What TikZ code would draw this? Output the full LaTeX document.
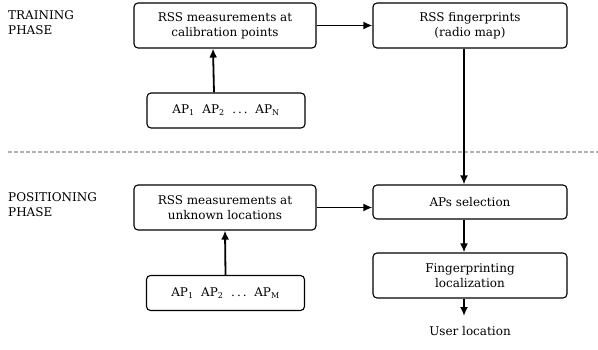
\documentclass[tikz,border=0pt]{standalone}
\usepackage{fontspec}
\setmainfont{DejaVu Serif}
\usetikzlibrary{arrows.meta}

\begin{document}
\begin{tikzpicture}[x=1pt, y=-1pt,
    box/.style={draw, rounded corners=4pt, line width=1.1pt, align=center,
                inner sep=0pt, font=\fontsize{12}{15}\selectfont},
    arr/.style={line width=1.8pt, -{Latex[length=9pt,width=8pt]}},
    phase/.style={anchor=north west, align=left, inner sep=0pt,
                  font=\fontsize{12}{15}\selectfont}]
\useasboundingbox (0,0) rectangle (598,349);

% training phase
\node[phase] (train) at (8,10) {TRAINING\\PHASE};
\node[box, minimum width=182pt, minimum height=45pt] (cal) at (225,25.5)
     {RSS measurements at\\calibration points};
\node[box, minimum width=194pt, minimum height=45pt] (map) at (470,25.5)
     {RSS fingerprints\\(radio map)};
\node[box, minimum width=158pt, minimum height=35pt] (apn) at (226,110.5)
     {AP\textsubscript{1}\ \ AP\textsubscript{2}\ \ .\,.\,.\ \ AP\textsubscript{N}};

% separator
\draw[gray!60, line width=1.6pt, dash pattern=on 4pt off 2pt] (8,152) -- (598,152);

% positioning phase
\node[phase] (pos) at (8,192) {POSITIONING\\PHASE};
\node[box, minimum width=182pt, minimum height=45pt] (unk) at (225,207.5)
     {RSS measurements at\\unknown locations};
\node[box, minimum width=158pt, minimum height=35pt] (apm) at (225.5,293)
     {AP\textsubscript{1}\ \ AP\textsubscript{2}\ \ .\,.\,.\ \ AP\textsubscript{M}};
\node[box, minimum width=194pt, minimum height=34pt] (sel) at (470,202)
     {APs selection};
\node[box, minimum width=194pt, minimum height=45pt] (loc) at (470,275.5)
     {Fingerprinting\\localization};
\node[font=\fontsize{12}{15}\selectfont, anchor=north, inner sep=0pt] (user) at (470,326)
     {User location};

\draw[arr] ([xshift=-12pt]apn.north) -- ([xshift=-12pt]cal.south);
\draw[arr] (cal.east) -- (map.west);
\draw[arr] ([xshift=-6pt]map.south) -- ([xshift=-6pt]sel.north);
\draw[arr] (apm.north) -- (unk.south);
\draw[arr] (unk.east) -- (unk.east -| sel.west);
\draw[arr] ([xshift=-6pt]sel.south) -- ([xshift=-6pt]loc.north);
\draw[arr] ([xshift=-6pt]loc.south) -- ([xshift=-6pt,yshift=10pt]user.north);
\end{tikzpicture}
\end{document}
